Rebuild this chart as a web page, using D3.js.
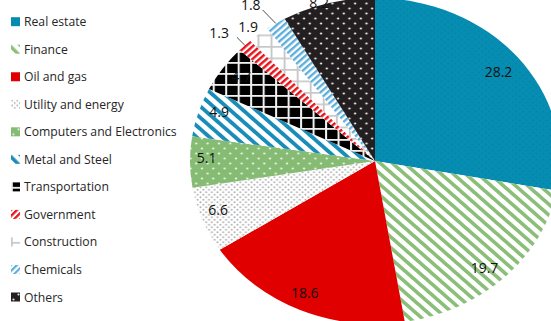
<!DOCTYPE html>
<html>
<head>
<meta charset="utf-8">
<script src="https://cdn.jsdelivr.net/npm/d3@7/dist/d3.min.js"></script>
<style>
  html, body { margin: 0; padding: 0; background: #fff; }
  svg { display: block; overflow: hidden; }
</style>
</head>
<body>
<svg id="chart" width="551" height="321"></svg>
<script>
// Sector shares of the total (per cent), clockwise from 12 o'clock
const categories = [
  "Real estate", "Finance", "Oil and gas", "Utility and energy",
  "Computers and Electronics", "Metal and Steel", "Transportation",
  "Government", "Construction", "Chemicals", "Others"
];
const shares = [28.2, 19.7, 18.6, 6.6, 5.1, 4.9, 4.7, 1.3, 1.9, 1.8, 8.2];
const shareLabels = shares.map(v => v.toFixed(1));

// ---- layout ----
const W = 551, H = 321;
const cx = 375, cy = 161;        // pie centre
const ry = 163, rx = 185;        // slightly wide ellipse
const svg = d3.select("#chart").attr("width", W).attr("height", H);
const defs = svg.append("defs");

// Fill patterns, one per sector
function stripes(id, bg, fg, period, width, angle) {
  const p = defs.append("pattern").attr("id", id)
    .attr("patternUnits", "userSpaceOnUse")
    .attr("width", period).attr("height", period)
    .attr("patternTransform", `rotate(${angle})`);
  p.append("rect").attr("width", period).attr("height", period).attr("fill", bg);
  p.append("rect").attr("width", width).attr("height", period).attr("fill", fg);
}
function dots(id, bg, fg, size, r) {
  const p = defs.append("pattern").attr("id", id)
    .attr("patternUnits", "userSpaceOnUse")
    .attr("width", size).attr("height", size);
  p.append("rect").attr("width", size).attr("height", size).attr("fill", bg);
  p.append("circle").attr("cx", size / 4).attr("cy", size / 4).attr("r", r).attr("fill", fg);
  p.append("circle").attr("cx", 3 * size / 4).attr("cy", 3 * size / 4).attr("r", r).attr("fill", fg);
}
function grid(id, bg, fg, size, lw) {
  const p = defs.append("pattern").attr("id", id)
    .attr("patternUnits", "userSpaceOnUse")
    .attr("width", size).attr("height", size);
  p.append("rect").attr("width", size).attr("height", size).attr("fill", bg);
  p.append("rect").attr("x", 0).attr("y", 0).attr("width", lw).attr("height", size).attr("fill", fg);
  p.append("rect").attr("x", 0).attr("y", 0).attr("width", size).attr("height", lw).attr("fill", fg);
}

dots("p-realestate", "#058db2", "#0a82a8", 6, 0.9);
stripes("p-finance", "#ffffff", "#8bbf79", 7.6, 3.4, -45);
defs.append("pattern").attr("id", "p-oil").attr("patternUnits", "userSpaceOnUse")
  .attr("width", 4).attr("height", 4)
  .append("rect").attr("width", 4).attr("height", 4).attr("fill", "#e00000");
dots("p-utility", "#ffffff", "#b4b4b4", 5, 0.9);
dots("p-computers", "#86bb74", "#e8f2e4", 10, 1.1);
stripes("p-metal", "#ffffff", "#1a8cb9", 8, 3.6, -45);
grid("p-transport", "#000000", "#f0f0f0", 11, 1.8);
stripes("p-government", "#ffffff", "#e8141c", 4.4, 2.3, 45);
grid("p-construction", "#ffffff", "#c8c8c8", 11.5, 1.7);
stripes("p-chemicals", "#ffffff", "#5daedb", 4.4, 2.2, 45);
dots("p-others", "#231f20", "#e6e6e6", 10, 1.1);

const fills = [
  "p-realestate", "p-finance", "p-oil", "p-utility", "p-computers",
  "p-metal", "p-transport", "p-government", "p-construction",
  "p-chemicals", "p-others"
].map(id => `url(#${id})`);

const color = d3.scaleOrdinal().domain(categories).range(fills);

// ---- pie ----
const pie = d3.pie().sort(null).value(d => d.value);
const arcs = pie(categories.map((c, i) => ({ name: c, value: shares[i] })));
const arc = d3.arc().innerRadius(0).outerRadius(ry);

const g = svg.append("g")
  .attr("transform", `translate(${cx},${cy}) scale(${rx / ry},1)`);
g.selectAll("path.slice")
  .data(arcs)
  .join("path")
  .attr("class", "slice")
  .attr("d", arc)
  .attr("fill", d => color(d.data.name));

// Point on the ellipse at angle a (radians, clockwise from top), radius factor f
function onPie(a, f) {
  return [cx + rx * f * Math.sin(a), cy - ry * f * Math.cos(a)];
}

// Label placement: radius factor and small angular nudge (degrees)
const labelPlace = [
  [0.863, 0.4], [0.88, 2.1], [0.889, 1.4], [0.90, 1.7], [0.91, 1.9],
  [0.895, 2.2], [0.888, 0.9], [1.155, -2.1], [1.075, -0.6], [1.17, -2.6],
  [1.02, -2.6]
];
// Leader lines for the small outside labels: [slice index, outer radius factor, angle nudge]
const leaders = [[7, 1.064, 0.2], [9, 1.108, -0.8]];

svg.append("g").selectAll("line")
  .data(leaders)
  .join("line")
  .each(function ([i, f, da]) {
    const a = arcs[i];
    const mid = (a.startAngle + a.endAngle) / 2;
    const p0 = onPie(mid, 1.0);
    const p1 = onPie(mid + da * Math.PI / 180, f);
    d3.select(this).attr("x1", p0[0]).attr("y1", p0[1])
      .attr("x2", p1[0]).attr("y2", p1[1]);
  })
  .attr("stroke", "#3a3a3a")
  .attr("stroke-width", 0.9);

svg.append("g").selectAll("text")
  .data(arcs)
  .join("text")
  .attr("transform", (d, i) => {
    const [f, da] = labelPlace[i];
    const mid = (d.startAngle + d.endAngle) / 2 + da * Math.PI / 180;
    const [x, y] = onPie(mid, f);
    return `translate(${x},${y})`;
  })
  .attr("text-anchor", "middle")
  .attr("dominant-baseline", "central")
  .attr("font-family", "'Open Sans', 'Noto Sans', sans-serif")
  .attr("font-size", 14)
  .attr("fill", "#111")
  .text((d, i) => shareLabels[i]);

// ---- legend ----
const legendY = d3.scalePoint().domain(categories).range([21.7, 297]);
const legend = svg.append("g");
const item = legend.selectAll("g").data(categories).join("g")
  .attr("transform", d => `translate(11,${legendY(d)})`);
item.append("rect")
  .attr("x", 0).attr("y", -4.5).attr("width", 9).attr("height", 9)
  .attr("fill", d => color(d));
item.append("text")
  .attr("x", 13).attr("y", 0)
  .attr("dominant-baseline", "central")
  .attr("font-family", "'Open Sans', 'Noto Sans', sans-serif")
  .attr("font-size", 12.2)
  .attr("fill", "#262626")
  .text(d => d);
</script>
</body>
</html>
